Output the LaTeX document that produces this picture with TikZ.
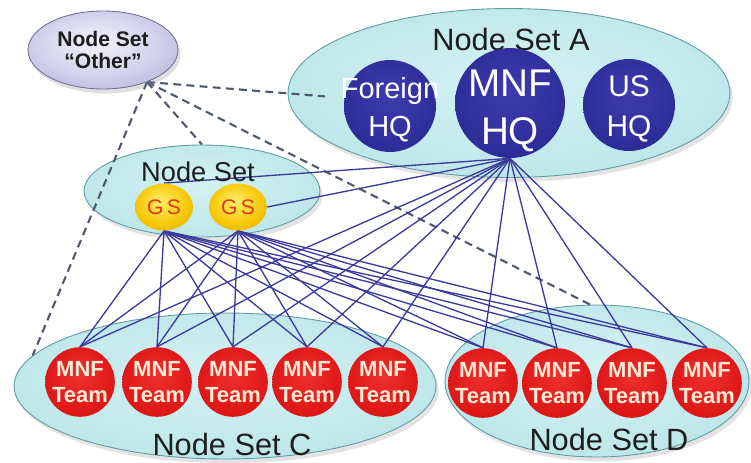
\documentclass[tikz,border=0pt]{standalone}
\usepackage{fontspec}
\setmainfont{Liberation Sans}
\usetikzlibrary{shapes.geometric,shadows}

\definecolor{setin}{HTML}{D4F2F4}
\definecolor{setmid}{HTML}{BEE7EA}
\definecolor{setout}{HTML}{8EC6CB}
\definecolor{setrim}{HTML}{5E9CA2}
\definecolor{othin}{HTML}{F2F2FB}
\definecolor{othmid}{HTML}{D2D2EC}
\definecolor{othout}{HTML}{8E8EBE}
\definecolor{gsin}{HTML}{FFEE6A}
\definecolor{gsmid}{HTML}{F6C400}
\definecolor{gsout}{HTML}{D08000}
\definecolor{hqin}{HTML}{3C3CAE}
\definecolor{hqmid}{HTML}{2C2C98}
\definecolor{hqout}{HTML}{1C1C72}
\definecolor{hqrim}{HTML}{4444A8}
\definecolor{tmin}{HTML}{F03030}
\definecolor{tmmid}{HTML}{DC1414}
\definecolor{tmout}{HTML}{A80606}
\definecolor{tmrim}{HTML}{DC4A4A}
\definecolor{linkblue}{HTML}{3A3A9C}
\definecolor{dashgray}{HTML}{4F5870}
\definecolor{gstext}{HTML}{D83A10}
\definecolor{teamtext}{HTML}{FAEAD4}
\definecolor{labeltext}{HTML}{1E1E1E}

% soft radial gradients for the ellipses and the spheres
\pgfdeclareradialshading{setshade}{\pgfpoint{0bp}{4bp}}{color(0bp)=(setin); color(26bp)=(setmid); color(44bp)=(setout); color(50bp)=(setrim)}
\pgfdeclareradialshading{othershade}{\pgfpoint{-3bp}{6bp}}{color(0bp)=(othin); color(20bp)=(othmid); color(50bp)=(othout)}
\pgfdeclareradialshading{gsshade}{\pgfpoint{-3bp}{7bp}}{color(0bp)=(gsin); color(24bp)=(gsmid); color(50bp)=(gsout)}
\pgfdeclareradialshading{hqshade}{\pgfpoint{0bp}{6bp}}{color(0bp)=(hqin); color(28bp)=(hqmid); color(46bp)=(hqout); color(50bp)=(hqrim)}
\pgfdeclareradialshading{teamshade}{\pgfpoint{0bp}{6bp}}{color(0bp)=(tmin); color(28bp)=(tmmid); color(46bp)=(tmout); color(50bp)=(tmrim)}

\pgfdeclarelayer{back}
\pgfdeclarelayer{mid}
\pgfsetlayers{back,mid,main}

\tikzset{
  setnode/.style={ellipse, inner sep=0pt, shading=setshade, draw=setrim, line width=0.5pt,
    drop shadow={opacity=0.22, shadow xshift=1.5pt, shadow yshift=-2.5pt}},
  othernode/.style={ellipse, inner sep=0pt, shading=othershade, draw=othout!80!black, line width=0.5pt,
    drop shadow={opacity=0.25, shadow xshift=1.5pt, shadow yshift=-2.5pt},
    font=\bfseries\fontsize{12}{13}\selectfont, text=labeltext, align=center},
  setlabel/.style={inner sep=0pt, text=labeltext, font=\fontsize{17.5}{20}\selectfont},
  hqball/.style={circle, inner sep=0pt, shading=hqshade},
  hqtext/.style={inner sep=0pt, text=white, align=center},
  gsball/.style={ellipse, inner sep=0pt, shading=gsshade, minimum width=1.16cm, minimum height=0.94cm,
    text=gstext, font=\fontsize{12}{12}\selectfont},
  teamball/.style={circle, inner sep=0pt, shading=teamshade, minimum size=1.32cm,
    text=teamtext, align=center, font=\bfseries\fontsize{12.5}{15}\selectfont},
  link/.style={draw=linkblue, line width=0.75pt},
  otherlink/.style={draw=dashgray, line width=1.2pt, dash pattern=on 4.5pt off 3pt},
}

\begin{document}
\begin{tikzpicture}[x=0.02cm, y=-0.02cm]
\useasboundingbox (0,0) rectangle (751,463);

% ---- node sets (background ellipses) ----
\begin{pgfonlayer}{back}
  \node[setnode, minimum width=8.84cm, minimum height=3.38cm] (seta) at (509,93) {};
  \node[setnode, minimum width=4.72cm, minimum height=1.84cm] (gsset) at (202,191) {};
  \node[setnode, minimum width=8.44cm, minimum height=2.92cm] (setc) at (225,386) {};
  \node[setnode, minimum width=6.08cm, minimum height=3.04cm] (setd) at (597,381) {};
\end{pgfonlayer}

\node[othernode, minimum width=3.0cm, minimum height=1.56cm] (other) at (103,50) {Node Set\\“Other”};

% ---- set labels ----
\node[setlabel] (labela) at (511,40) {Node Set A};
\node[setlabel, font=\fontsize{15.5}{18}\selectfont] (labelgs) at (198,172) {Node Set};
\node[setlabel] (labelc) at (232,445) {Node Set C};
\node[setlabel] (labeld) at (609,440) {Node Set D};

% ---- headquarters ----
\node[hqball, minimum size=1.84cm] (foreign) at (390,106) {};
\node[hqball, minimum size=2.2cm] (mnf) at (510,103) {};
\node[hqball, minimum size=1.84cm] (ushq) at (629,105) {};
\node[hqtext, font=\fontsize{16.5}{21.5}\selectfont] (foreigntxt) at (390,110) {Foreign\\HQ};
\node[hqtext, font=\fontsize{22}{27}\selectfont] (mnftxt) at (510,111) {MNF\\HQ};
\node[hqtext, font=\fontsize{17}{22.5}\selectfont] (ustxt) at (629,109) {US\\HQ};

% ---- GS nodes ----
\node[gsball] (gs1) at (164,207) {G\kern2pt S};
\node[gsball] (gs2) at (238,207) {G\kern2pt S};

% ---- MNF teams ----
\foreach \n/\x/\y in {c1/80/382, c2/157/382, c3/233/382, c4/307/382, c5/383/382,
                      d1/483/383, d2/557/383, d3/632/383, d4/707/383}
  \node[teamball] (\n) at (\x,\y) {MNF\\Team};

% ---- connectors ----
\begin{pgfonlayer}{mid}
  \draw[otherlink, shorten >=11pt] (other.-36) -- (foreign.170);
  \draw[otherlink] (other.-36) -- (gsset.north);
  \draw[otherlink] (other.-36) -- (setc.171);
  \draw[otherlink] (other.-36) -- (setd.95);

  \draw[link] (mnf.south) -- (gs1.north);
  \draw[link] (mnf.south) -- (gs2.east);
  \foreach \t in {c1,c2,c3,c4,c5,d1,d2,d3,d4} {
    \draw[link] (mnf.south) -- (\t.north);
    \draw[link] (gs1.south) -- (\t.north);
    \draw[link] (gs2.south) -- (\t.north);
  }
\end{pgfonlayer}
\end{tikzpicture}
\end{document}
